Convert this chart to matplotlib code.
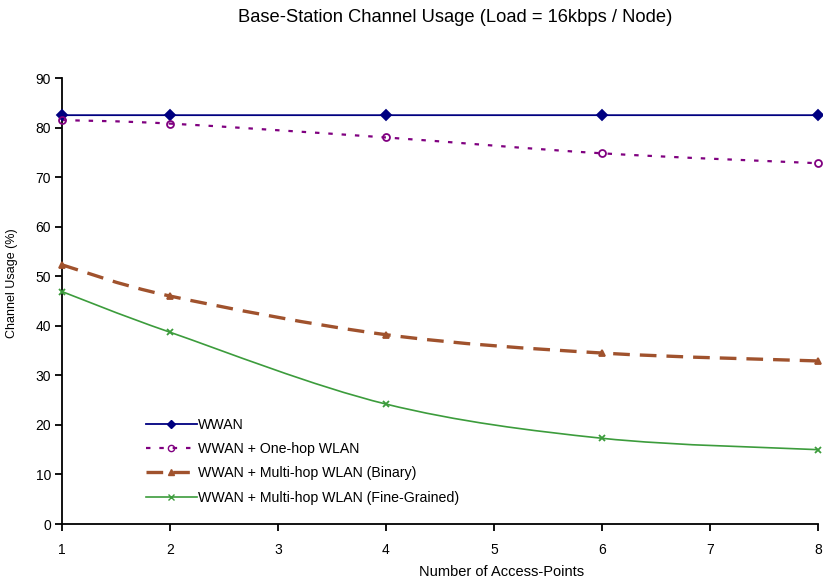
import matplotlib
matplotlib.use('Agg')
from matplotlib import pyplot as plt
from matplotlib.path import Path
from matplotlib.patches import PathPatch
from matplotlib.lines import Line2D

plt.rcParams['font.family'] = ['Liberation Sans', 'DejaVu Sans']

### datos
access_points = [1, 2, 4, 6, 8]
wwan = [82.5, 82.5, 82.5, 82.5, 82.5]
one_hop = [81.5, 80.8, 78.0, 74.8, 72.8]
multi_binary = [52.3, 46.0, 38.2, 34.5, 32.9]
multi_fine = [46.9, 38.7, 24.2, 17.3, 15.0]

labels = ['WWAN', 'WWAN + One-hop WLAN',
          'WWAN + Multi-hop WLAN (Binary)', 'WWAN + Multi-hop WLAN (Fine-Grained)']


def smooth_path(xs, ys):
    ### curva suavizada tipo Excel (bezier con puntos de control de Catmull-Rom)
    pts = list(zip(xs, ys))
    n = len(pts)
    verts = [pts[0]]
    codes = [Path.MOVETO]
    for i in range(n - 1):
        p0 = pts[max(i - 1, 0)]
        p1 = pts[i]
        p2 = pts[i + 1]
        p3 = pts[min(i + 2, n - 1)]
        c1 = (p1[0] + (p2[0] - p0[0]) / 6, p1[1] + (p2[1] - p0[1]) / 6)
        c2 = (p2[0] - (p3[0] - p1[0]) / 6, p2[1] - (p3[1] - p1[1]) / 6)
        verts += [c1, c2, p2]
        codes += [Path.CURVE4] * 3
    return Path(verts, codes)


fig = plt.figure(figsize=(8.23, 5.83), dpi=100)
ax = fig.add_axes([62 / 823, 1 - 524 / 583, 756 / 823, 446 / 583])

styles = [
    dict(color='#000080', lw=1.3, ls='-', marker='D', ms=5.5, mfc='#000080', mec='#000080'),
    dict(color='#800080', lw=1.6, ls=(0, (2, 4)), marker='o', ms=5, mfc='none', mec='#800080'),
    dict(color='#a0522d', lw=2.4, ls=(0, (5, 3)), marker='^', ms=5, mfc='#a0522d', mec='#a0522d'),
    dict(color='#3c9c3c', lw=1.2, ls='-', marker='x', ms=5, mfc='#3c9c3c', mec='#3c9c3c'),
]
series = [wwan, one_hop, multi_binary, multi_fine]

handles = []
for ys, st, lab in zip(series, styles, labels):
    patch = PathPatch(smooth_path(access_points, ys), fill=False, edgecolor=st['color'],
                      lw=st['lw'], linestyle=st['ls'], transform=ax.transData, clip_on=False)
    ax.add_patch(patch)
    ax.plot(access_points, ys, linestyle='none', marker=st['marker'], ms=st['ms'],
            mfc=st['mfc'], mec=st['mec'], mew=1.3, clip_on=False, zorder=3)
    handles.append(Line2D([], [], color=st['color'], lw=st['lw'], linestyle=st['ls'],
                          marker=st['marker'], ms=4.5, mfc=st['mfc'], mec=st['mec'], label=lab))

ax.set_xlim(1, 8)
ax.set_ylim(0, 90)
ax.set_xticks(range(1, 9))
ax.set_yticks(range(0, 91, 10))
for s in ['top', 'right']:
    ax.spines[s].set_visible(False)
ax.spines['left'].set_linewidth(1.3)
ax.spines['bottom'].set_linewidth(1.3)
ax.tick_params(direction='out', length=5, width=1.3, labelsize=10, colors='black')
ax.tick_params(axis='x', pad=9)
ax.tick_params(axis='y', pad=3)

ax.set_xlabel('Number of Access-Points', fontsize=10.5)
ax.xaxis.set_label_coords(440 / 756, -(565 - 524) / 446)
ax.set_ylabel('Channel Usage (%)', fontsize=9)
ax.yaxis.set_label_coords(-(62 - 18) / 756, (524 - 283) / 446)
fig.text(455 / 823, 1 - 17 / 583, 'Base-Station Channel Usage (Load = 16kbps / Node)',
         ha='center', va='center', fontsize=13.2)

ax.legend(handles=handles, loc='upper left', bbox_to_anchor=(136 / 823, 1 - 408 / 583),
          bbox_transform=fig.transFigure, frameon=False, fontsize=10.2, handlelength=3.6,
          handletextpad=0.1, labelspacing=0.72, borderpad=0.2)

fig.savefig('out.png', dpi=100)
